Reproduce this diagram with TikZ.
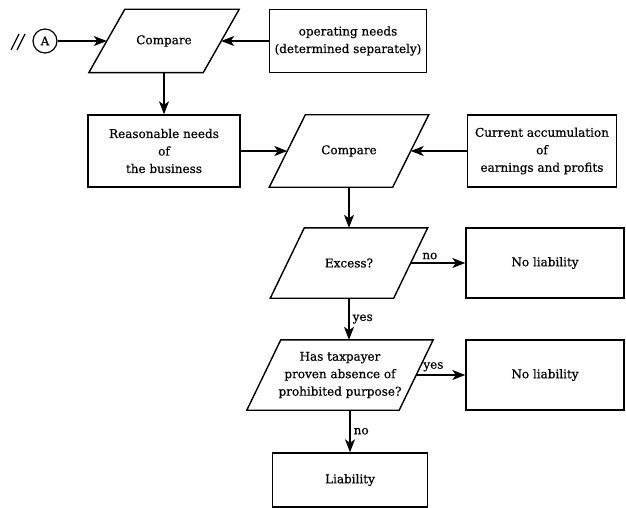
\documentclass[tikz,border=0pt]{standalone}
\usepackage{fontspec}
\setmainfont{DejaVu Serif}[FakeBold=0.5]
\usetikzlibrary{arrows.meta}

\tikzset{
  box/.style={draw, rectangle, line width=1.4pt, align=center, inner sep=2pt},
  slantbox/.style={rectangle, align=center, inner sep=1pt},
  outline/.style={line width=1.4pt, line join=miter},
  flow/.style={-{Stealth[length=13pt,width=10pt,inset=3.5pt]}, line width=1.4pt},
  lbl/.style={inner sep=3pt}
}

\begin{document}
\begin{tikzpicture}[x=1pt, y=-1pt, font=\fontsize{12}{17.5}\selectfont]
  \useasboundingbox (0,0) rectangle (626,508);

  \node[draw, circle, line width=1.2pt, minimum size=24pt, inner sep=0pt] (conA) at (45,41) {A};
  \node[slantbox, minimum width=114pt, minimum height=63pt] (cmpA) at (164,41) {Compare};
  \node[box, minimum width=157pt, minimum height=63pt] (opneeds) at (348,41) {operating needs\\(determined separately)};
  \node[box, minimum width=152pt, minimum height=72pt] (reason) at (164,151) {Reasonable needs\\of\\the business};
  \node[slantbox, minimum width=123pt, minimum height=72pt] (cmpB) at (349,151) {Compare};
  \node[box, minimum width=149pt, minimum height=72pt] (accum) at (542,151) {Current accumulation\\of\\earnings and profits};
  \node[slantbox, minimum width=123pt, minimum height=70pt] (excess) at (349,263) {Excess?};
  \node[box, minimum width=158pt, minimum height=70pt] (noliabA) at (545,263) {No liability};
  \node[slantbox, minimum width=152pt, minimum height=70pt] (taxp) at (340,375) {Has taxpayer\\proven absence of\\prohibited purpose?};
  \node[box, minimum width=158pt, minimum height=70pt] (noliabB) at (545,375) {No liability};
  \node[box, minimum width=155pt, minimum height=54pt] (liab) at (350,480) {Liability};

  % slanted outlines of the compare and decision steps
  \foreach \n/\s in {cmpA/18, cmpB/18, excess/17, taxp/17}
    \draw[outline] ([xshift=\s pt]\n.north west) -- ([xshift=\s pt]\n.north east)
      -- ([xshift=-\s pt]\n.south east) -- ([xshift=-\s pt]\n.south west) -- cycle;

  % break marks before the connector
  \draw[line width=1.2pt] (11,50) -- (19,34);
  \draw[line width=1.2pt] (17,50) -- (25,34);

  \draw[flow] (conA.east) -- (cmpA.west);
  \draw[flow] (opneeds.west) -- (cmpA.east);
  \draw[flow] (cmpA.south) -- (reason.north);
  \draw[flow] (reason.east) -- (cmpB.west);
  \draw[flow] (accum.west) -- (cmpB.east);
  \draw[flow] (cmpB.south) -- (excess.north);
  \draw[flow] (excess.east) -- node[lbl, pos=0.35, above] {no} (noliabA.west);
  \draw[flow] (excess.south) -- node[lbl, midway, right] {yes} (excess.south |- taxp.north);
  \draw[flow] (taxp.east) -- node[lbl, pos=0.35, above] {yes} (noliabB.west);
  \draw[flow] (liab.north |- taxp.south) -- node[lbl, midway, right] {no} (liab.north);
\end{tikzpicture}
\end{document}
